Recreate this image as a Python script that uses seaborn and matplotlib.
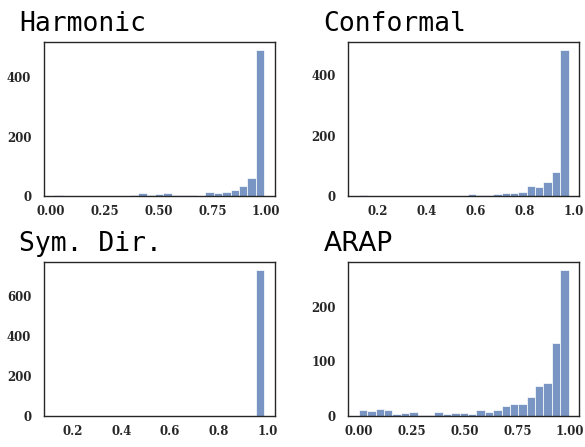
import numpy as np
import seaborn as sns
import matplotlib.pyplot as plt

# bin counts (25 bins per panel)
harmonic_counts = [1, 0, 0, 0, 0, 0, 0, 0, 0, 4, 9, 3, 7, 10, 4, 4, 4, 0, 12, 10, 14, 21, 33, 61, 493]
harmonic_range = (0.0165, 0.99)
conformal_counts = [1, 0, 0, 0, 0, 0, 0, 0, 0, 0, 0, 0, 0, 5, 3, 4, 6, 8, 9, 14, 31, 29, 47, 78, 485]
conformal_range = (0.125, 0.979)
symdir_counts = [1, 0, 0, 0, 0, 0, 0, 0, 0, 0, 0, 0, 0, 0, 0, 0, 0, 0, 0, 0, 0, 0, 0, 0, 729]
symdir_range = (0.125, 0.986)
arap_counts = [11, 8, 12, 10, 3, 5, 7, 2, 2, 7, 3, 5, 5, 4, 10, 7, 11, 17, 21, 22, 34, 55, 60, 134, 268]
arap_range = (0.0, 0.993)

titles = ['Harmonic', 'Conformal', 'Sym. Dir.', 'ARAP']
title_fonts = ['DejaVu Sans Mono', 'DejaVu Sans Mono', 'DejaVu Sans Mono', 'DejaVu Sans']
xticks = [[0, 0.25, 0.5, 0.75, 1.0], [0.2, 0.4, 0.6, 0.8, 1.0],
          [0.2, 0.4, 0.6, 0.8, 1.0], [0, 0.25, 0.5, 0.75, 1.0]]
xfmt = ['{:.2f}', '{:.1f}', '{:.1f}', '{:.2f}']
yticks = [[0, 200, 400], [0, 200, 400], [0, 200, 400, 600], [0, 100, 200]]

panels = [(harmonic_counts, harmonic_range), (conformal_counts, conformal_range),
          (symdir_counts, symdir_range), (arap_counts, arap_range)]

sns.set_theme(style='white')
plt.rcParams['axes.edgecolor'] = '0.15'
plt.rcParams['axes.linewidth'] = 1.0

fig, axes = plt.subplots(2, 2, figsize=(5.85, 4.47), dpi=100)
fig.subplots_adjust(left=0.075, right=0.99, top=0.905, bottom=0.07, wspace=0.32, hspace=0.435)

for i, ax in enumerate(axes.flat):
    counts, (lo, hi) = panels[i]
    n = len(counts)
    edges = np.linspace(lo, hi, n + 1)
    centers = (edges[:-1] + edges[1:]) / 2
    sns.histplot(x=centers, weights=counts, bins=n, binrange=(lo, hi),
                 color='#4c72b0', alpha=0.75, edgecolor='white', linewidth=0.5, ax=ax)
    ax.set_xlabel('')
    ax.set_ylabel('')
    ax.set_xticks(xticks[i])
    ax.set_xticklabels([xfmt[i].format(t) for t in xticks[i]])
    ax.set_yticks(yticks[i])
    for lab in ax.get_xticklabels() + ax.get_yticklabels():
        lab.set_fontfamily('DejaVu Serif')
        lab.set_fontweight('bold')
        lab.set_fontsize(8.5)
        lab.set_color('0.15')
    ax.tick_params(axis='y', pad=9, length=0)
    ax.tick_params(axis='x', pad=7, length=0)
    ax.set_title(titles[i], loc='left', x=-0.107, pad=8, fontsize=19,
                 fontfamily=title_fonts[i], color='black')

fig.savefig('out.png', dpi=100)
